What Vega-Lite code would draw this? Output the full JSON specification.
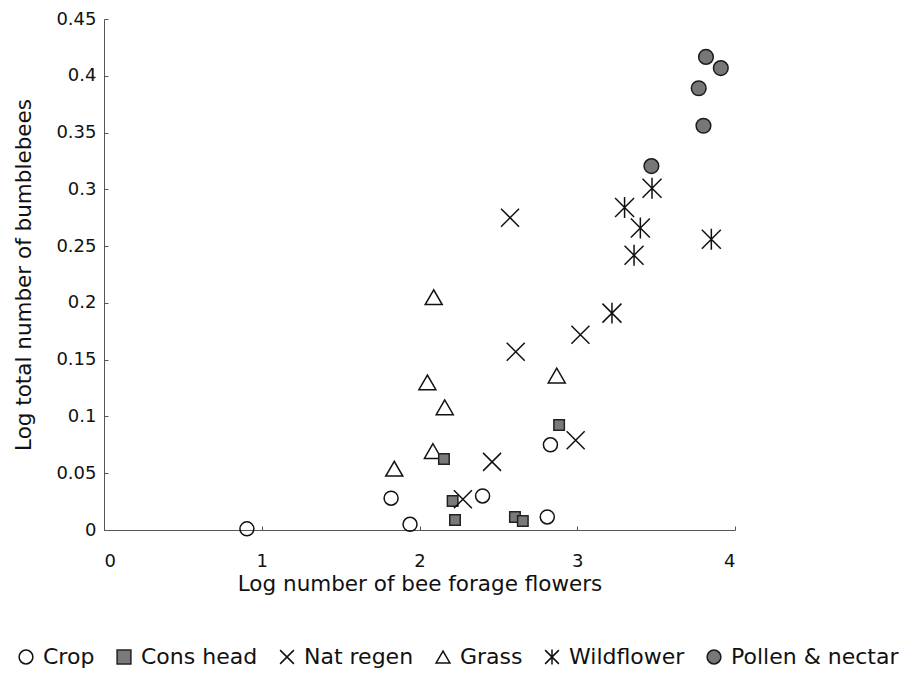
{
  "$schema": "https://vega.github.io/schema/vega-lite/v6.json",
  "width": 631,
  "height": 511,
  "autosize": "none",
  "padding": {"left": 104, "top": 19, "right": 166, "bottom": 144},
  "background": "white",
  "config": {
    "view": {"stroke": null},
    "font": "DejaVu Sans",
    "axis": {
      "grid": false,
      "domainColor": "#555555",
      "domainWidth": 1,
      "tickColor": "#555555",
      "tickSize": -4,
      "labelFont": "DejaVu Sans",
      "labelFontSize": 18,
      "labelColor": "#111111",
      "titleFont": "DejaVu Sans",
      "titleFontSize": 21.5,
      "titleFontWeight": "normal",
      "titleColor": "#111111"
    }
  },
  "data": {
    "values": [
      {"group": "Crop", "flowers": 0.906, "bees": 0.001},
      {"group": "Crop", "flowers": 1.82, "bees": 0.028},
      {"group": "Crop", "flowers": 1.94, "bees": 0.005},
      {"group": "Crop", "flowers": 2.4, "bees": 0.03},
      {"group": "Crop", "flowers": 2.81, "bees": 0.0115},
      {"group": "Crop", "flowers": 2.83, "bees": 0.075},
      {"group": "Grass", "flowers": 2.09, "bees": 0.205},
      {"group": "Grass", "flowers": 2.05, "bees": 0.13},
      {"group": "Grass", "flowers": 2.16, "bees": 0.108},
      {"group": "Grass", "flowers": 2.085, "bees": 0.0695},
      {"group": "Grass", "flowers": 1.84, "bees": 0.054},
      {"group": "Grass", "flowers": 2.87, "bees": 0.136},
      {"group": "Cons head", "flowers": 2.155, "bees": 0.0625},
      {"group": "Cons head", "flowers": 2.21, "bees": 0.0255},
      {"group": "Cons head", "flowers": 2.225, "bees": 0.0088},
      {"group": "Cons head", "flowers": 2.605, "bees": 0.0115},
      {"group": "Cons head", "flowers": 2.655, "bees": 0.008},
      {"group": "Cons head", "flowers": 2.885, "bees": 0.0925},
      {"group": "Nat regen", "flowers": 2.275, "bees": 0.027},
      {"group": "Nat regen", "flowers": 2.46, "bees": 0.06},
      {"group": "Nat regen", "flowers": 2.61, "bees": 0.157},
      {"group": "Nat regen", "flowers": 3.02, "bees": 0.172},
      {"group": "Nat regen", "flowers": 2.99, "bees": 0.079},
      {"group": "Nat regen", "flowers": 2.574, "bees": 0.275},
      {"group": "Wildflower", "flowers": 3.22, "bees": 0.191},
      {"group": "Wildflower", "flowers": 3.3, "bees": 0.284},
      {"group": "Wildflower", "flowers": 3.474, "bees": 0.301},
      {"group": "Wildflower", "flowers": 3.4, "bees": 0.266},
      {"group": "Wildflower", "flowers": 3.36, "bees": 0.242},
      {"group": "Wildflower", "flowers": 3.85, "bees": 0.256},
      {"group": "Pollen & nectar", "flowers": 3.816, "bees": 0.4166},
      {"group": "Pollen & nectar", "flowers": 3.91, "bees": 0.4068},
      {"group": "Pollen & nectar", "flowers": 3.77, "bees": 0.389},
      {"group": "Pollen & nectar", "flowers": 3.8, "bees": 0.356},
      {"group": "Pollen & nectar", "flowers": 3.47, "bees": 0.3205}
    ]
  },
  "encoding": {
    "x": {
      "field": "flowers",
      "type": "quantitative",
      "scale": {"domain": [0, 4], "nice": false, "zero": false},
      "axis": {
        "values": [0, 1, 2, 3, 4],
        "format": "d",
        "labelPadding": 26,
        "title": "Log number of bee forage flowers",
        "titlePadding": 3
      }
    },
    "y": {
      "field": "bees",
      "type": "quantitative",
      "scale": {"domain": [0, 0.45], "nice": false},
      "axis": {
        "values": [0, 0.05, 0.1, 0.15, 0.2, 0.25, 0.3, 0.35, 0.4, 0.45],
        "format": "~g",
        "labelPadding": 12,
        "title": "Log total number of bumblebees",
        "titlePadding": 20
      }
    },
    "shape": {
      "field": "group",
      "type": "nominal",
      "scale": {
        "domain": ["Crop", "Cons head", "Nat regen", "Grass", "Wildflower", "Pollen & nectar"],
        "range": ["circle", "square", "M-1,-1L1,1M1,-1L-1,1", "triangle-up", "M-1,-1L1,1M1,-1L-1,1M0,-1.1L0,1.1", "circle"]
      },
      "legend": {
        "title": null,
        "orient": "none",
        "direction": "horizontal",
        "columns": 6,
        "legendX": -89,
        "legendY": 627,
        "padding": 0,
        "columnPadding": 18,
        "labelOffset": 6,
        "labelLimit": 400,
        "labelFont": "DejaVu Sans",
        "labelFontSize": 22,
        "labelColor": "#111111",
        "symbolSize": 190,
        "symbolStrokeWidth": 1.5
      }
    },
    "fill": {
      "field": "group",
      "type": "nominal",
      "scale": {
        "domain": ["Crop", "Cons head", "Nat regen", "Grass", "Wildflower", "Pollen & nectar"],
        "range": ["transparent", "#7a7a7a", "transparent", "transparent", "transparent", "#777777"]
      }
    },
    "stroke": {
      "field": "group",
      "type": "nominal",
      "scale": {
        "domain": ["Crop", "Cons head", "Nat regen", "Grass", "Wildflower", "Pollen & nectar"],
        "range": ["#111111", "#222222", "#111111", "#111111", "#111111", "#1a1a1a"]
      }
    }
  },
  "layer": [
    {
      "transform": [{"filter": "datum.group === 'Crop'"}],
      "mark": {"type": "point", "filled": true, "strokeWidth": 1.5, "opacity": 1, "size": 196}
    },
    {
      "transform": [{"filter": "datum.group === 'Grass'"}],
      "mark": {"type": "point", "filled": true, "strokeWidth": 1.5, "opacity": 1, "size": 289}
    },
    {
      "transform": [{"filter": "datum.group === 'Cons head'"}],
      "mark": {"type": "point", "filled": true, "strokeWidth": 1.5, "opacity": 1, "size": 110}
    },
    {
      "transform": [{"filter": "datum.group === 'Nat regen'"}],
      "mark": {"type": "point", "filled": true, "strokeWidth": 1.5, "opacity": 1, "size": 324}
    },
    {
      "transform": [{"filter": "datum.group === 'Wildflower'"}],
      "mark": {"type": "point", "filled": true, "strokeWidth": 1.5, "opacity": 1, "size": 361}
    },
    {
      "transform": [{"filter": "datum.group === 'Pollen & nectar'"}],
      "mark": {"type": "point", "filled": true, "strokeWidth": 1.5, "opacity": 1, "size": 215}
    }
  ]
}
